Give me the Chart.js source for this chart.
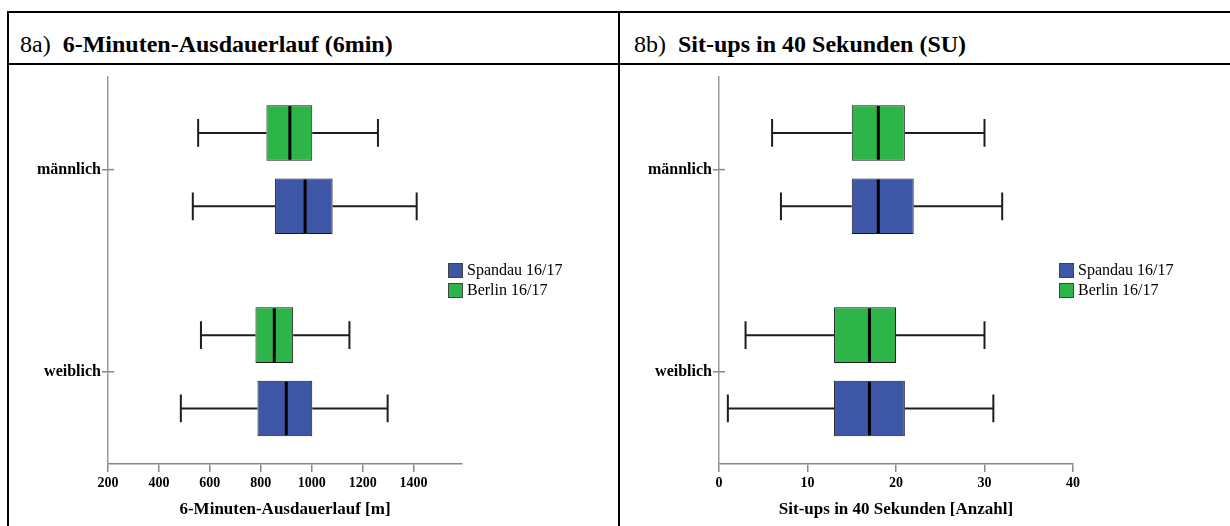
<!DOCTYPE html>
<html lang="de">
<head>
<meta charset="utf-8">
<title>8a / 8b Boxplots</title>
<script src="https://cdn.jsdelivr.net/npm/chart.js@4/dist/chart.umd.min.js"></script>
<style>
  html, body { margin: 0; padding: 0; background: #fff; }
  #page { position: relative; width: 1230px; height: 526px; overflow: hidden; font-family: "Liberation Serif", "Times New Roman", serif; color: #000; }
  .rule { position: absolute; background: #000; }
  .head { position: absolute; top: 30px; font-size: 24px; line-height: 28px; white-space: pre; }
  .head b { font-weight: bold; }
  canvas { position: absolute; }
  .legend { position: absolute; top: 260px; font-size: 16px; line-height: 20px; }
  .legend div { display: flex; align-items: center; height: 20px; }
  .legend span.sw { display: inline-block; box-sizing: border-box; width: 15px; height: 15px; border: 1px solid #444; margin-right: 4px; }
</style>
</head>
<body>
<div id="page">
  <div class="rule" style="left:7px; top:11px; width:1223px; height:2px;"></div>
  <div class="rule" style="left:7px; top:63px; width:1223px; height:2px;"></div>
  <div class="rule" style="left:7px; top:11px; width:2px; height:515px;"></div>
  <div class="rule" style="left:618px; top:11px; width:2px; height:515px;"></div>

  <div class="head" style="left:20px;">8a)  <b>6-Minuten-Ausdauerlauf (6min)</b></div>
  <div class="head" style="left:634px;">8b)  <b>Sit-ups in 40 Sekunden (SU)</b></div>

  <canvas id="chart-run" width="600" height="460" style="left:10px; top:66px;"></canvas>
  <canvas id="chart-su" width="600" height="460" style="left:621px; top:66px;"></canvas>

  <div class="legend" id="legend-run" style="left:448px;"></div>
  <div class="legend" id="legend-su" style="left:1059px;"></div>
</div>

<script>
// ── Data ──────────────────────────────────────────────────────────────────
// five-number summaries per group: [min, Q1, median, Q3, max]

const groups = ["männlich", "weiblich"];
const seriesNames = ["Spandau 16/17", "Berlin 16/17"];

const runSpandau = [[533, 856, 974, 1082, 1412], [486, 787, 900, 1002, 1298]];
const runBerlin  = [[554, 822, 914, 1002, 1260], [565, 779, 853, 927, 1148]];

const suSpandau  = [[7, 15, 18, 22, 32], [1, 13, 17, 21, 31]];
const suBerlin   = [[6, 15, 18, 21, 30], [3, 13, 17, 20, 30]];

const runTickValues = [200, 400, 600, 800, 1000, 1200, 1400];
const suTickValues  = [0, 10, 20, 30, 40];
const runRange = [200, 1590];
const suRange  = [0, 40];

const runTitle = "6-Minuten-Ausdauerlauf [m]";
const suTitle  = "Sit-ups in 40 Sekunden [Anzahl]";

const colors = { spandau: "#3d56a6", berlin: "#2db54a" };

// ── Box & whisker drawing on top of the floating bars ─────────────────────

const whiskers = {
  id: "whiskers",
  afterDatasetsDraw(chart) {
    const ctx = chart.ctx;
    const xs = chart.scales.x;
    ctx.save();
    chart.data.datasets.forEach((ds, d) => {
      const meta = chart.getDatasetMeta(d);
      meta.data.forEach((bar, i) => {
        const { y, height } = bar.getProps(["y", "height"], true);
        const [lo, q1, med, q3, hi] = ds.stats[i].map(v => xs.getPixelForValue(v));
        const cap = height / 4;
        ctx.strokeStyle = "#1e1e1e";
        ctx.lineWidth = 2;
        ctx.beginPath();
        ctx.moveTo(lo, y); ctx.lineTo(q1, y);
        ctx.moveTo(q3, y); ctx.lineTo(hi, y);
        ctx.moveTo(lo, y - cap); ctx.lineTo(lo, y + cap);
        ctx.moveTo(hi, y - cap); ctx.lineTo(hi, y + cap);
        ctx.stroke();
        ctx.strokeStyle = "#000";
        ctx.lineWidth = 3;
        ctx.beginPath();
        ctx.moveTo(med, y - height / 2 + 1);
        ctx.lineTo(med, y + height / 2 - 1);
        ctx.stroke();
      });
    });
    // category tick marks cross the axis a little
    const ys = chart.scales.y;
    const left = chart.chartArea.left;
    ctx.strokeStyle = "#888";
    ctx.lineWidth = 1.5;
    ys.ticks.forEach(t => {
      const p = ys.getPixelForValue(t.value);
      ctx.beginPath();
      ctx.moveTo(left, p); ctx.lineTo(left + 6, p);
      ctx.stroke();
    });
    ctx.restore();
  },
};

function boxData(stats) {
  return stats.map((s, i) => ({ y: i, x: [s[1], s[3]] }));
}

function makeBoxChart(id, spandau, berlin, range, tickValues, title) {
  const ctx = document.getElementById(id).getContext("2d");
  return new Chart(ctx, {
    type: "bar",
    data: {
      datasets: [
        {
          label: seriesNames[1],
          data: boxData(berlin),
          stats: berlin,
          backgroundColor: colors.berlin,
        },
        {
          label: seriesNames[0],
          data: boxData(spandau),
          stats: spandau,
          backgroundColor: colors.spandau,
        },
      ],
    },
    options: {
      indexAxis: "y",
      responsive: false,
      devicePixelRatio: 1,
      animation: false,
      layout: { padding: { top: 7, right: 148, left: 0, bottom: 0 } },
      datasets: {
        bar: {
          borderColor: "#1a1a1a",
          borderWidth: 1,
          borderSkipped: false,
          categoryPercentage: 0.7255,
          barPercentage: 0.757,
        },
      },
      plugins: { legend: { display: false }, tooltip: { enabled: false } },
      scales: {
        x: {
          type: "linear",
          min: range[0],
          max: range[1],
          afterFit: s => { s.height = 62; },
          afterBuildTicks: s => { s.ticks = tickValues.map(v => ({ value: v })); },
          border: { display: true, color: "#888", width: 1.5 },
          grid: { drawOnChartArea: false, drawTicks: true, tickLength: 8, color: "#888", lineWidth: 1.5 },
          ticks: {
            maxRotation: 0,
            autoSkip: false,
            padding: 3,
            color: "#000",
            callback: v => String(v),
            font: { family: "Liberation Serif", weight: "bold", size: 14 },
          },
          title: {
            display: true,
            text: title,
            color: "#000",
            padding: { top: 0, bottom: 6 },
            font: { family: "Liberation Serif", weight: "bold", size: 17 },
          },
        },
        y: {
          type: "linear",
          reverse: true,
          offset: false,
          min: -0.46,
          max: 1.456,
          afterFit: s => { s.width = 98; },
          afterBuildTicks: s => { s.ticks = groups.map((g, i) => ({ value: i })); },
          border: { display: true, color: "#999", width: 1.5 },
          grid: { offset: false, drawOnChartArea: false, drawTicks: true, tickLength: 6, color: "#888", lineWidth: 1.5 },
          ticks: {
            padding: 1,
            autoSkip: false,
            color: "#000",
            callback: v => groups[v],
            font: { family: "Liberation Serif", weight: "bold", size: 16 },
          },
        },
      },
    },
    plugins: [whiskers],
  });
}

function renderLegend(id) {
  const el = document.getElementById(id);
  el.innerHTML = `
    <div><span class="sw" style="background:${colors.spandau}"></span>${seriesNames[0]}</div>
    <div><span class="sw" style="background:${colors.berlin}"></span>${seriesNames[1]}</div>
  `;
}

// ── Init ──────────────────────────────────────────────────────────────────

makeBoxChart("chart-run", runSpandau, runBerlin, runRange, runTickValues, runTitle);
makeBoxChart("chart-su", suSpandau, suBerlin, suRange, suTickValues, suTitle);
renderLegend("legend-run");
renderLegend("legend-su");
</script>
</body>
</html>
